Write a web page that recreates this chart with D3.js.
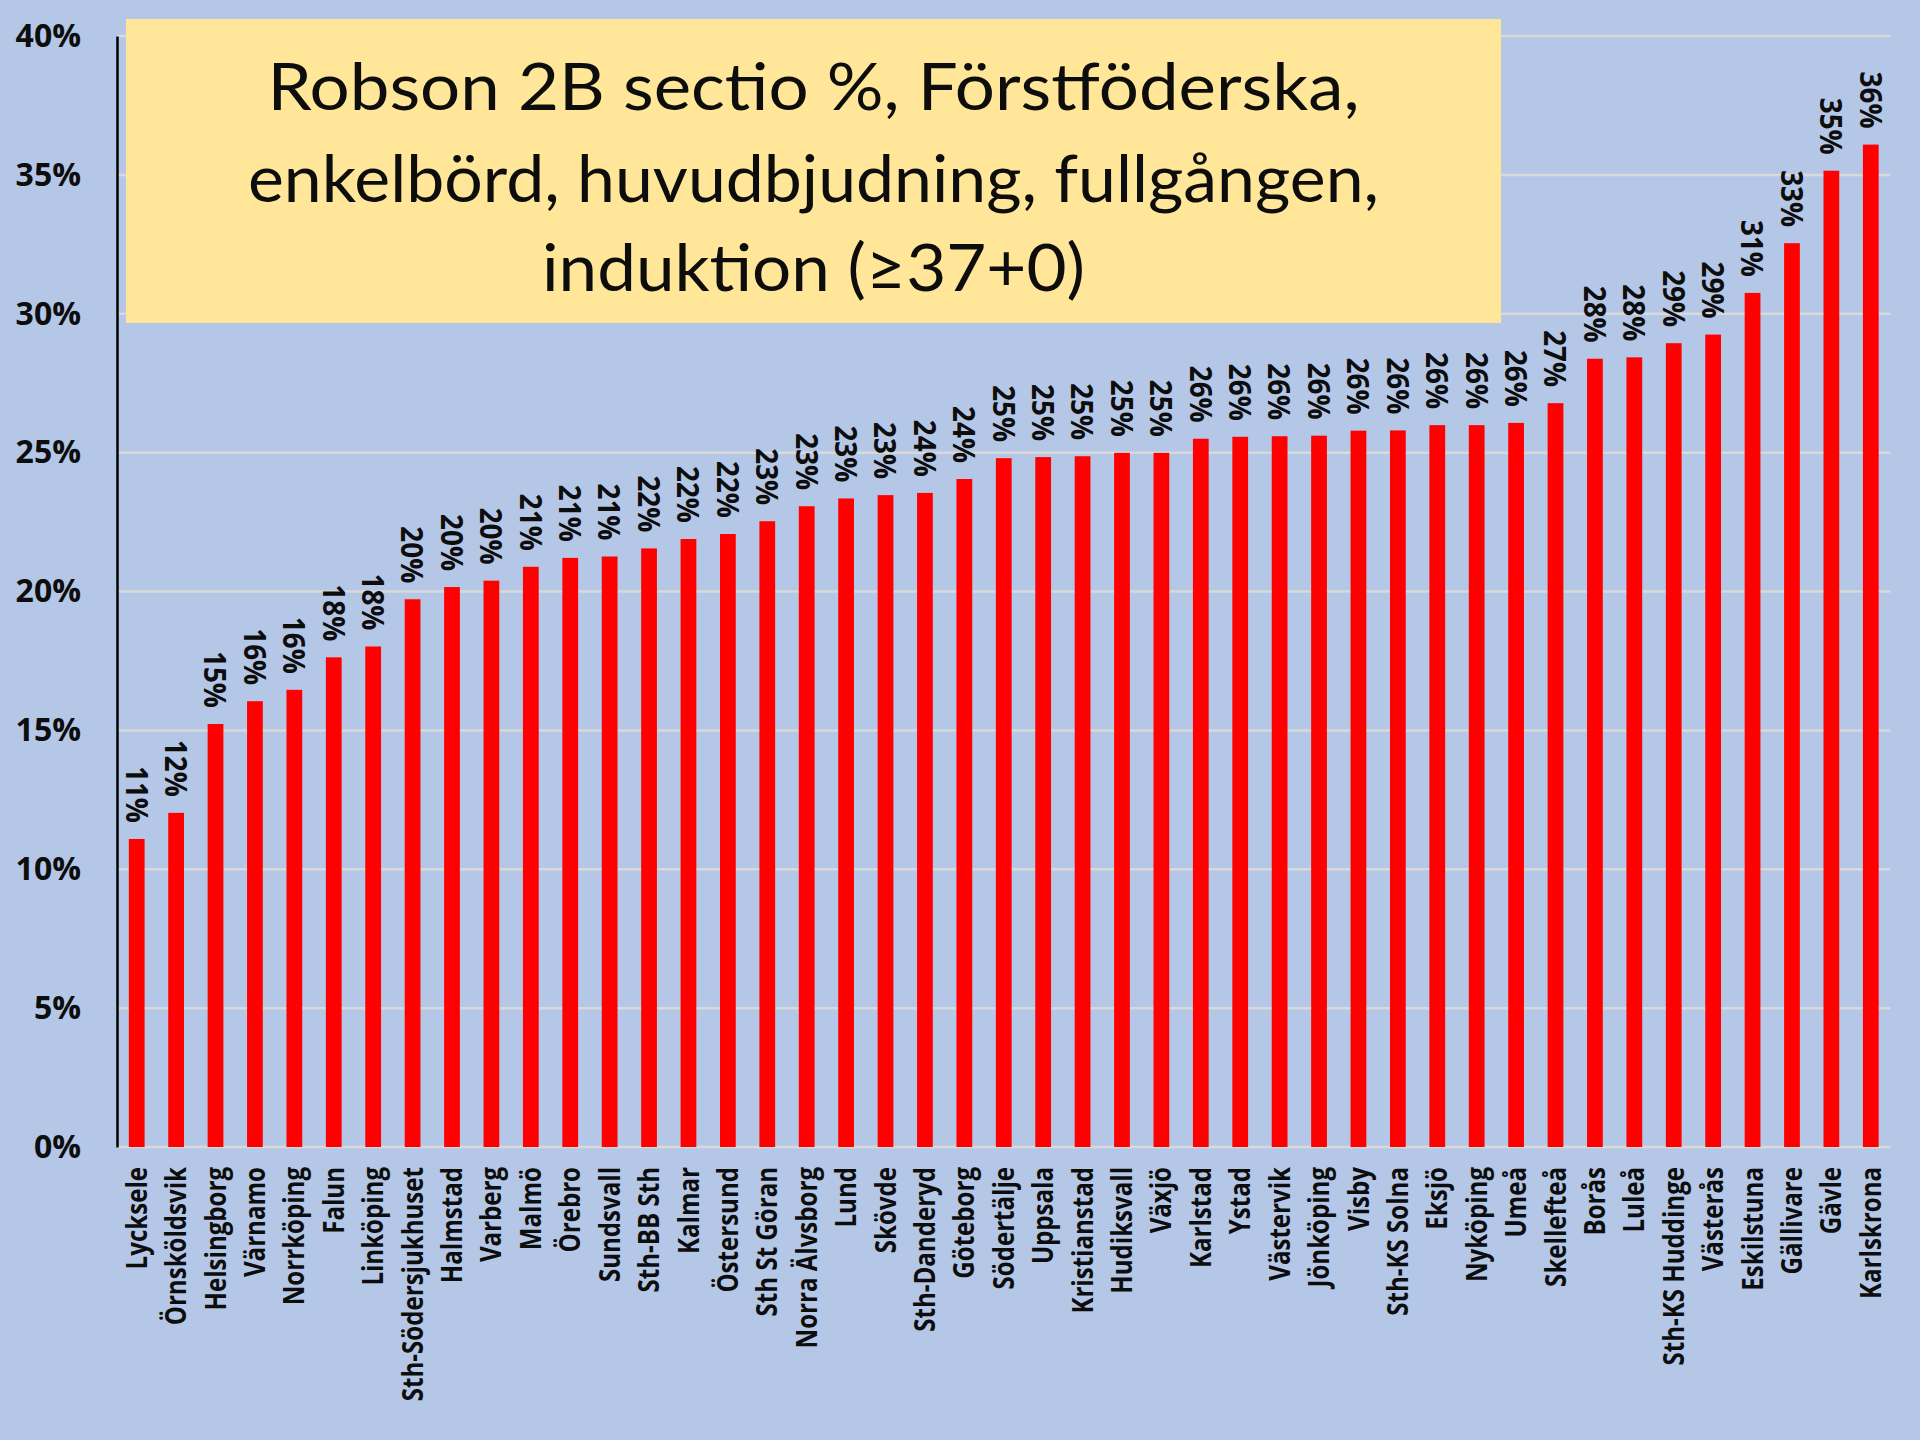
<!DOCTYPE html>
<html>
<head>
<meta charset="utf-8">
<script src="https://cdn.jsdelivr.net/npm/d3@7"></script>
<style>
  html, body { margin: 0; padding: 0; background: #B4C7E7; }
  svg { display: block; }
</style>
</head>
<body>
<svg id="chart" width="1920" height="1440"></svg>
<script>
// ---- Data ----
const categories = [
  "Lycksele", "Örnsköldsvik", "Helsingborg", "Värnamo", "Norrköping", "Falun",
  "Linköping", "Sth-Södersjukhuset", "Halmstad", "Varberg", "Malmö", "Örebro",
  "Sundsvall", "Sth-BB Sth", "Kalmar", "Östersund", "Sth St Göran", "Norra Älvsborg",
  "Lund", "Skövde", "Sth-Danderyd", "Göteborg", "Södertälje", "Uppsala",
  "Kristianstad", "Hudiksvall", "Växjö", "Karlstad", "Ystad", "Västervik",
  "Jönköping", "Visby", "Sth-KS Solna", "Eksjö", "Nyköping", "Umeå",
  "Skellefteå", "Borås", "Luleå", "Sth-KS Huddinge", "Västerås", "Eskilstuna",
  "Gällivare", "Gävle", "Karlskrona"
];
const values = [
  11.09, 12.03, 15.23, 16.05, 16.46, 17.63,
  18.02, 19.72, 20.16, 20.39, 20.89, 21.21,
  21.26, 21.55, 21.89, 22.07, 22.53, 23.07,
  23.35, 23.47, 23.55, 24.05, 24.80, 24.84,
  24.87, 24.99, 24.99, 25.50, 25.57, 25.59,
  25.61, 25.79, 25.80, 25.99, 25.99, 26.07,
  26.78, 28.38, 28.43, 28.94, 29.25, 30.75,
  32.54, 35.15, 36.09
];
const yTicks = [0, 5, 10, 15, 20, 25, 30, 35, 40];
const titleLines = [
  "Robson 2B sectio %, Förstföderska,",
  "enkelbörd, huvudbjudning, fullgången,",
  "induktion (≥37+0)"
];

// ---- Layout ----
const W = 1920, H = 1440;
const plotLeft = 117, plotRight = 1890.5, plotTop = 36, plotBottom = 1147;
const svg = d3.select("#chart");

svg.append("rect").attr("width", W).attr("height", H).attr("fill", "#B4C7E7");

const x = d3.scaleBand().domain(categories).range([plotLeft, plotRight])
  .paddingInner(0.6).paddingOuter(0.3);
const y = d3.scaleLinear().domain([0, 40]).range([plotBottom, plotTop]);

// gridlines
svg.append("g").selectAll("line").data(yTicks).join("line")
  .attr("x1", plotLeft).attr("x2", plotRight)
  .attr("y1", d => y(d)).attr("y2", d => y(d))
  .attr("stroke", "#D9D9D9").attr("stroke-width", 2.5);

// title box
const box = { x: 126, y: 19, w: 1375, h: 304 };
svg.append("rect").attr("x", box.x).attr("y", box.y)
  .attr("width", box.w).attr("height", box.h).attr("fill", "#FFE699");

const titleTargets = [1092, 1131, 543];
const titleBaselines = [110, 202, 291];
const tg = svg.append("g");
titleLines.forEach((t, i) => {
  const el = tg.append("text")
    .attr("x", box.x + box.w / 2).attr("y", titleBaselines[i])
    .attr("text-anchor", "middle")
    .attr("font-family", "Lato, 'Noto Sans', sans-serif")
    .attr("font-size", 66)
    .attr("fill", "#0d0d0d")
    .text(t);
  const len = el.node().getComputedTextLength();
  if (Math.abs(len - titleTargets[i]) > 4) {
    el.attr("textLength", titleTargets[i]).attr("lengthAdjust", "spacingAndGlyphs");
  }
});

// bars
svg.append("g").selectAll("rect").data(values).join("rect")
  .attr("x", (d, i) => x(categories[i]))
  .attr("width", x.bandwidth())
  .attr("y", d => y(d))
  .attr("height", d => y(0) - y(d))
  .attr("fill", "#FF0000");

// data labels (rotated 90, reading downward)
svg.append("g").selectAll("text").data(values).join("text")
  .attr("transform", (d, i) =>
    `translate(${x(categories[i]) + x.bandwidth() / 2},${y(d) - 16}) rotate(90) scale(0.9,1)`)
  .attr("text-anchor", "end")
  .attr("dy", "0.36em")
  .attr("font-family", "'Open Sans', sans-serif")
  .attr("font-weight", 700)
  .attr("font-size", 31)
  .attr("fill", "#0d0d0d")
  .text(d => Math.round(d) + "%");

// y axis
const yAxis = d3.axisLeft(y).tickValues(yTicks).tickFormat(d => d + "%")
  .tickSize(0).tickPadding(36);
const ya = svg.append("g").attr("transform", `translate(${plotLeft},0)`).call(yAxis);
ya.select(".domain").attr("stroke", "#000").attr("stroke-width", 2.5);
ya.selectAll("text")
  .attr("font-family", "'Open Sans', sans-serif")
  .attr("font-weight", 700)
  .attr("font-size", 32)
  .attr("fill", "#0d0d0d");

// x labels (rotated -90)
svg.append("g").selectAll("text").data(categories).join("text")
  .attr("transform", d =>
    `translate(${x(d) + x.bandwidth() / 2},1167) rotate(-90) scale(0.86,1)`)
  .attr("text-anchor", "end")
  .attr("dy", "0.36em")
  .attr("font-family", "'Open Sans', sans-serif")
  .attr("font-weight", 700)
  .attr("font-size", 28)
  .attr("fill", "#0d0d0d")
  .text(d => d);
</script>
</body>
</html>
